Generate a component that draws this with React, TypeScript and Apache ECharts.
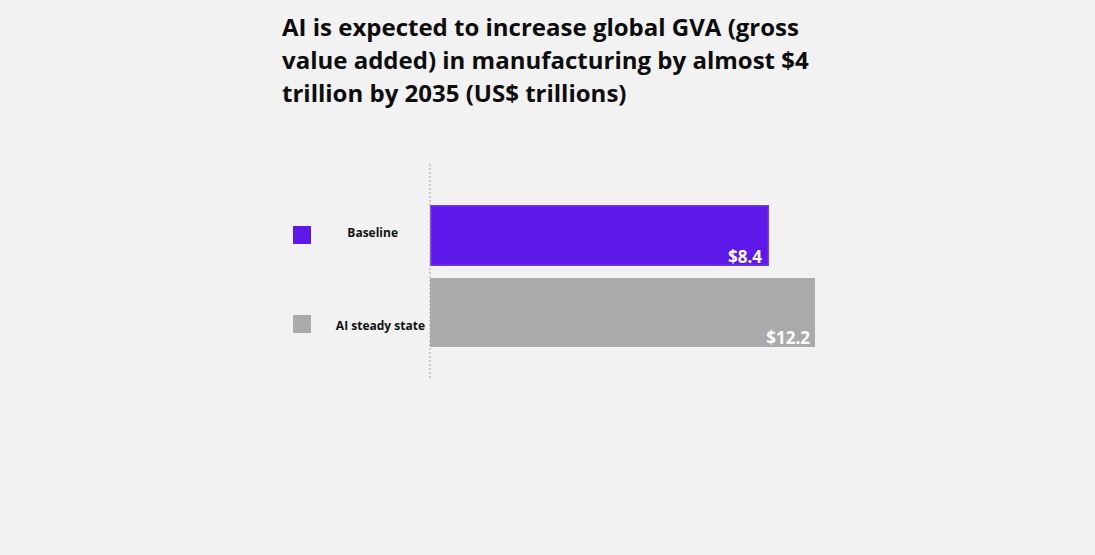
import React, { useEffect, useRef } from "react";
import * as echarts from "echarts";

const categories = ["Baseline", "AI steady state"];
const gvaValues = [8.4, 12.2];
// the two bars in the source graphic are not drawn on a common scale,
// so each one gets its own axis range
const axisMax = [9.54, 12.2];

const barColors = ["#5f18ea", "#aaaaaa"];
const fontFamily = "'Open Sans', 'Noto Sans', sans-serif";

const App: React.FC = () => {
    const chartRef = useRef<HTMLDivElement>(null);

    useEffect(() => {
        document.body.style.margin = "0";
        if (!chartRef.current) return;
        const chart = echarts.init(chartRef.current, undefined, { renderer: "svg" });

        const grids = [
            { left: 430, top: 205, width: 385, height: 61 },
            { left: 430, top: 278, width: 385, height: 69 },
        ];
        const labelMargins = [32, 5];
        const labelAlign = [
            { verticalAlign: "bottom", lineHeight: 7 },
            { verticalAlign: "top", lineHeight: 25 },
        ];
        const valueOffsets = [[-2, 4], [0, 4]];

        chart.setOption({
            animation: false,
            backgroundColor: "#f2f2f2",
            textStyle: { fontFamily },
            title: {
                text: "AI is expected to increase global GVA (gross\nvalue added) in manufacturing by almost $4\ntrillion by 2035 (US$ trillions)",
                left: 282,
                top: 10,
                padding: 0,
                textStyle: {
                    fontFamily,
                    fontSize: 24,
                    fontWeight: "bold",
                    lineHeight: 33,
                    color: "#0d0d0d",
                },
            },
            legend: {
                orient: "vertical",
                left: 293,
                top: 226,
                padding: 0,
                itemWidth: 18,
                itemHeight: 18,
                itemGap: 71,
                icon: "rect",
                selectedMode: false,
                formatter: () => " ",
                data: categories.map((name, i) => ({
                    name,
                    itemStyle: { color: barColors[i], borderWidth: 0 },
                })),
            },
            grid: grids,
            xAxis: grids.map((_, i) => ({
                type: "value",
                gridIndex: i,
                min: 0,
                max: axisMax[i],
                show: false,
            })),
            yAxis: grids.map((_, i) => ({
                type: "category",
                gridIndex: i,
                data: [categories[i]],
                axisLine: { show: false },
                axisTick: { show: false },
                splitLine: { show: false },
                axisLabel: {
                    margin: labelMargins[i],
                    color: "#111111",
                    fontFamily,
                    fontSize: 12,
                    fontWeight: "bold",
                    ...labelAlign[i],
                },
            })),
            graphic: [
                {
                    type: "line",
                    shape: { x1: 430, y1: 164, x2: 430, y2: 378 },
                    style: { stroke: "#a6a6a6", lineWidth: 1, lineDash: [2, 2] },
                    z: 10,
                },
            ],
            series: categories.map((name, i) => ({
                name,
                type: "bar",
                xAxisIndex: i,
                yAxisIndex: i,
                barWidth: "100%",
                data: [gvaValues[i]],
                itemStyle: {
                    color: barColors[i],
                    borderColor: i === 0 ? "#7038f0" : barColors[i],
                    borderWidth: i === 0 ? 1.5 : 0,
                },
                label: {
                    show: true,
                    position: "insideBottomRight",
                    distance: 5,
                    offset: valueOffsets[i],
                    formatter: (p: any) => "$" + p.value,
                    color: "#ffffff",
                    fontFamily,
                    fontSize: 17,
                    fontWeight: "bold",
                },
            })),
        });

        return () => {
            chart.dispose();
        };
    }, []);

    return <div ref={chartRef} style={{ width: 1095, height: 555 }} />;
};

export default App;
